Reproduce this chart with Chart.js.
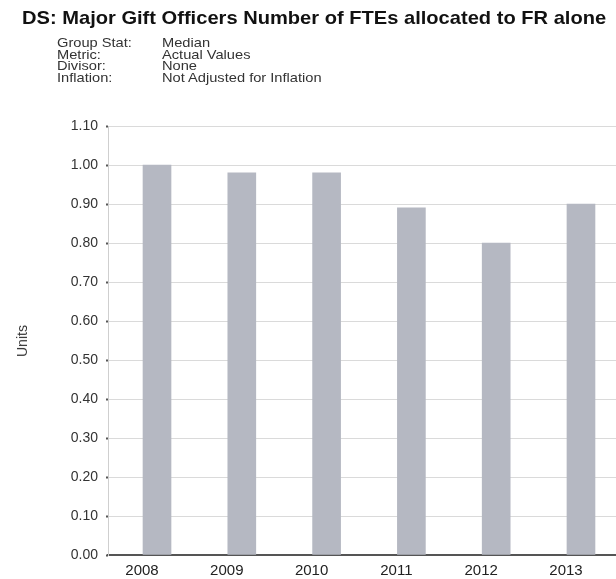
<!DOCTYPE html>
<html>
<head>
<meta charset="utf-8">
<script src="https://cdn.jsdelivr.net/npm/chart.js@4"></script>
<style>
  html, body { margin: 0; padding: 0; background: #fff; overflow: hidden; }
  body { width: 616px; height: 579px; position: relative; font-family: "Liberation Sans", Arial, sans-serif; }
  #title { position: absolute; left: 22px; top: 8px; font-size: 19px; line-height: 19px; font-weight: bold; color: #111; white-space: nowrap; transform-origin: 0 0; }
  .meta { position: absolute; top: 37px; font-size: 13px; line-height: 11.5px; color: #333; white-space: nowrap; transform-origin: 0 0; }
  #metaKeys { left: 57px; }
  #metaVals { left: 162px; }
  #units { position: absolute; left: 22px; top: 341px; transform: translate(-50%, -50%) rotate(-90deg); font-size: 14px; color: #333; }
  #wrap { position: absolute; left: 0; top: 0; width: 616px; height: 579px; }
</style>
</head>
<body>
<div id="wrap"><canvas id="chart" width="616" height="579"></canvas></div>
<div id="title">DS: Major Gift Officers Number of FTEs allocated to FR alone</div>
<div class="meta" id="metaKeys">Group Stat:<br>Metric:<br>Divisor:<br>Inflation:</div>
<div class="meta" id="metaVals">Median<br>Actual Values<br>None<br>Not Adjusted for Inflation</div>
<div id="units">Units</div>
<script>
// Data
const years = ['2008', '2009', '2010', '2011', '2012', '2013'];
const medianFtes = [1.00, 0.98, 0.98, 0.89, 0.80, 0.90];

// y axis ticks 0.00 .. 1.10
const yMax = 1.1;
const yStep = 0.1;

// stretch header text horizontally like the reference
function fitWidth(id, w) {
    const el = document.getElementById(id);
    const k = w / el.offsetWidth;
    el.style.transform = 'scaleX(' + k + ')';
    return k;
}
fitWidth('title', 584);
const metaScale = fitWidth('metaVals', 160);
document.getElementById('metaKeys').style.transform = 'scaleX(' + metaScale + ')';

const ctx = document.getElementById('chart');

new Chart(ctx, {
    type: 'bar',
    data: {
        datasets: [{
            label: 'Median',
            data: medianFtes.map((v, i) => ({ x: i, y: v })),
            backgroundColor: '#b5b8c2',
            borderWidth: 0,
            barThickness: 28
        }]
    },
    options: {
        responsive: false,
        animation: false,
        layout: {
            padding: { top: 126, right: 0, bottom: 0, left: 0 }
        },
        plugins: {
            legend: { display: false },
            title: { display: false },
            tooltip: { enabled: false }
        },
        scales: {
            x: {
                type: 'linear',
                offset: false,
                min: -0.578,
                max: 5.413,
                afterBuildTicks: function(scale) {
                    scale.ticks = years.map((_, i) => ({ value: i }));
                },
                afterFit: function(scale) {
                    scale.height = 24;
                },
                grid: { display: false, drawTicks: false, offset: false },
                border: { display: true, color: '#555', width: 2 },
                ticks: {
                    padding: 7,
                    labelOffset: -15,
                    color: '#222',
                    font: { family: 'Liberation Sans', size: 15 },
                    maxRotation: 0,
                    autoSkip: false,
                    callback: function(value) {
                        return years[value] || '';
                    }
                }
            },
            y: {
                min: 0,
                max: yMax,
                afterFit: function(scale) {
                    scale.width = 108;
                },
                grid: {
                    color: '#dadada',
                    lineWidth: 1,
                    tickColor: '#555',
                    tickLength: 2,
                    tickWidth: 2
                },
                border: { display: true, color: '#cfcfcf', width: 1 },
                ticks: {
                    stepSize: yStep,
                    padding: 8,
                    color: '#333',
                    font: { family: 'Liberation Sans', size: 14 },
                    callback: function(value) {
                        return value.toFixed(2);
                    }
                }
            }
        }
    }
});
</script>
</body>
</html>
